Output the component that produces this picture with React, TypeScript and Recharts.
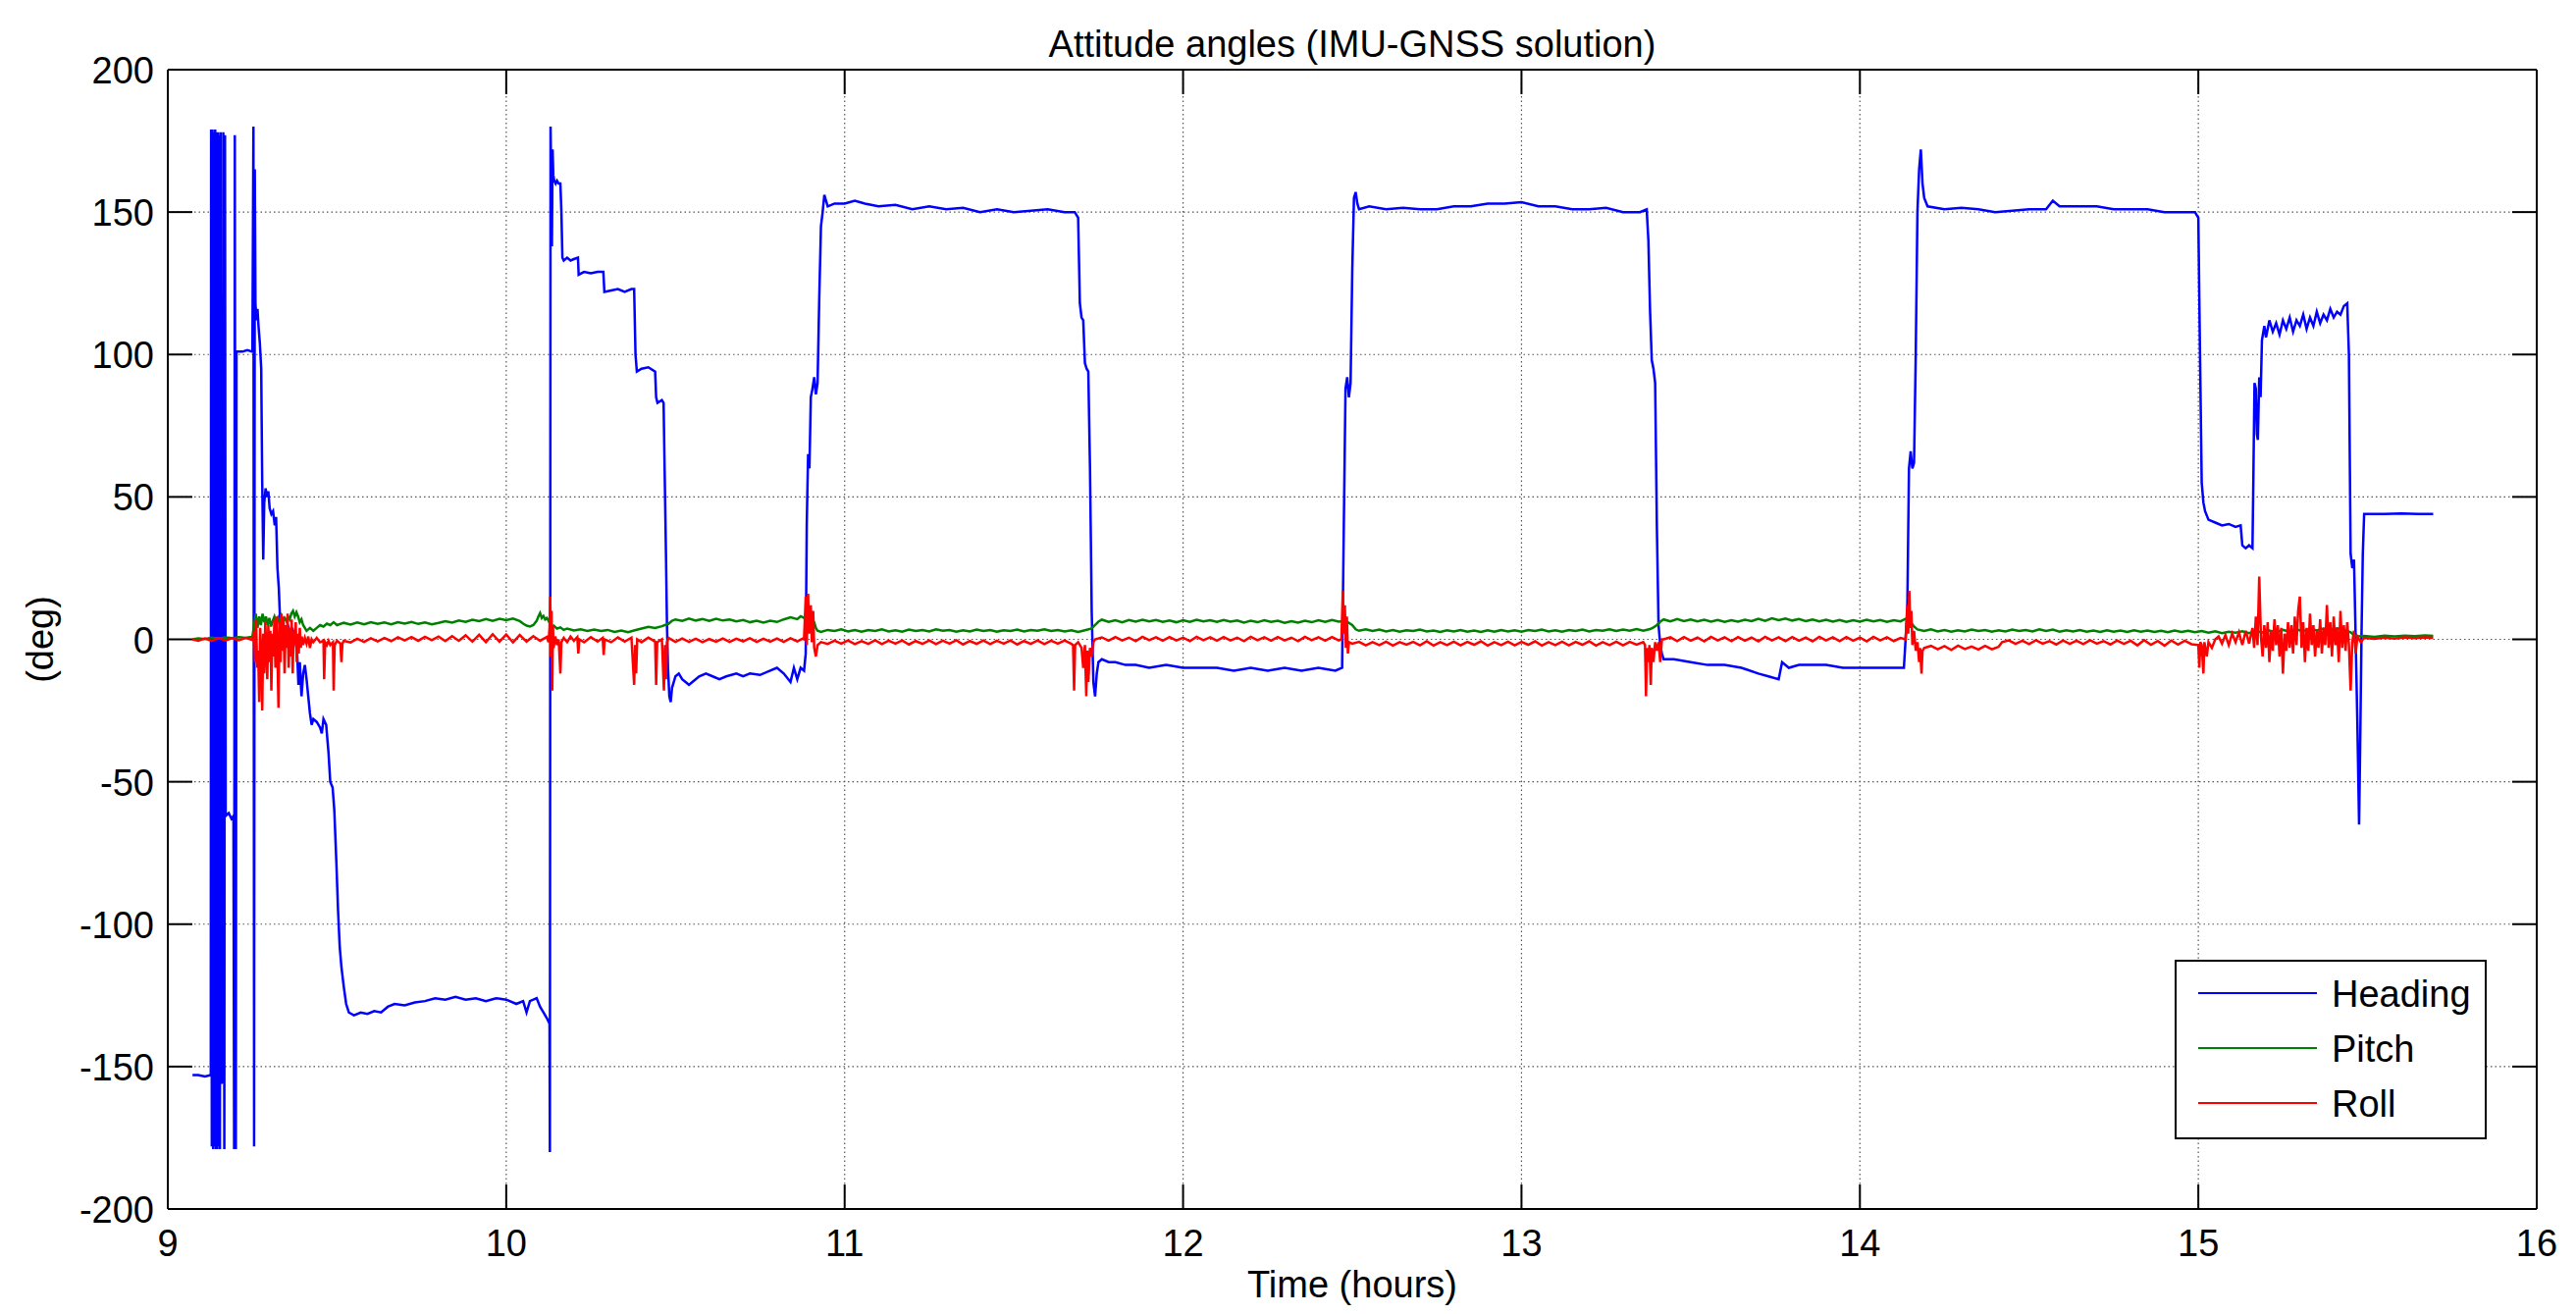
import React from 'react';
import { LineChart, Line, XAxis, YAxis, CartesianGrid, ReferenceLine, Legend, Label } from 'recharts';

type Pt = [number, number];

// axis ticks
const xTicks = [9, 10, 11, 12, 13, 14, 15, 16];
const yTicks = [-200, -150, -100, -50, 0, 50, 100, 150, 200];

// [time (hours), angle (deg)]
const heading: Pt[] = [
  [9.073, -153], [9.09, -153], [9.11, -153.5], [9.127, -153],
  [9.128, 179], [9.13, -178], [9.132, 179], [9.134, -179], [9.136, 178], [9.138, -178], [9.14, 179], [9.142, -179],
  [9.144, 178], [9.146, -179], [9.148, 178], [9.15, -178], [9.152, 177], [9.154, -179], [9.156, 178], [9.158, -156], [9.162, -155],
  [9.164, 178], [9.167, -179], [9.169, 177], [9.171, -62], [9.18, -61], [9.188, -63], [9.194, -62],
  [9.196, -179], [9.198, 177], [9.201, -179], [9.203, 101], [9.22, 101], [9.235, 101.5], [9.25, 101],
  [9.253, 180], [9.255, -178], [9.257, 165], [9.259, 118], [9.262, 112], [9.265, 116], [9.268, 110], [9.272, 104], [9.276, 95],
  [9.279, 55], [9.282, 28], [9.285, 48], [9.289, 53], [9.293, 50], [9.297, 52], [9.301, 46], [9.306, 44], [9.311, 45], [9.316, 40],
  [9.32, 43], [9.324, 25], [9.328, 18], [9.332, 6], [9.337, 1], [9.343, 3], [9.35, 2], [9.357, 4], [9.364, 1], [9.37, 3], [9.376, 0],
  [9.382, -4], [9.386, -16], [9.39, -8], [9.395, -20], [9.4, -12], [9.405, -9], [9.41, -14], [9.415, -20], [9.42, -26], [9.425, -30],
  [9.43, -28], [9.44, -29], [9.45, -31], [9.455, -33], [9.46, -28], [9.468, -30], [9.475, -40], [9.48, -50], [9.487, -52], [9.492, -60],
  [9.498, -78], [9.503, -95], [9.508, -108], [9.513, -115], [9.52, -122], [9.527, -128], [9.535, -131],
  [9.55, -132], [9.57, -131], [9.59, -131.5], [9.61, -130.5], [9.63, -131], [9.65, -129], [9.67, -128], [9.7, -128.5], [9.73, -127.5],
  [9.76, -127], [9.79, -126], [9.82, -126.5], [9.85, -125.5], [9.88, -126.5], [9.91, -126], [9.94, -127], [9.97, -126], [10.0, -126.5],
  [10.03, -128], [10.05, -127], [10.06, -131], [10.07, -127], [10.09, -126], [10.1, -129], [10.11, -131], [10.12, -133], [10.128, -135],
  [10.129, -180], [10.131, 180], [10.133, 160], [10.135, 138], [10.137, 172], [10.139, 163], [10.142, 161], [10.146, 160], [10.15, 161],
  [10.155, 160], [10.16, 160], [10.163, 150], [10.166, 134], [10.17, 133], [10.18, 134], [10.19, 133], [10.2, 133.5], [10.212, 134],
  [10.214, 128], [10.23, 129], [10.25, 128.5], [10.27, 129], [10.287, 129], [10.29, 122], [10.31, 122.5], [10.33, 123], [10.35, 122],
  [10.37, 123], [10.378, 123], [10.382, 100], [10.386, 94], [10.4, 95], [10.42, 95.5], [10.44, 94], [10.443, 85], [10.447, 83],
  [10.46, 84], [10.465, 83], [10.468, 60], [10.472, 30], [10.475, 5], [10.478, -10], [10.482, -20], [10.486, -22], [10.49, -17],
  [10.495, -15], [10.5, -13], [10.51, -12], [10.52, -14], [10.53, -15], [10.54, -16], [10.55, -15], [10.57, -13], [10.59, -12],
  [10.61, -13], [10.63, -14], [10.65, -13], [10.68, -12], [10.7, -13], [10.72, -12], [10.75, -12.5], [10.78, -11], [10.8, -10],
  [10.82, -12], [10.84, -15], [10.85, -10], [10.86, -14], [10.87, -10], [10.88, -11],
  [10.885, -5], [10.888, 40], [10.892, 65], [10.896, 60], [10.9, 85], [10.905, 88], [10.91, 92], [10.915, 86], [10.92, 90],
  [10.925, 120], [10.93, 145], [10.935, 150], [10.94, 156], [10.945, 154], [10.95, 152], [10.97, 153], [11.0, 153], [11.03, 154],
  [11.06, 153], [11.1, 152], [11.15, 152.5], [11.2, 151], [11.25, 152], [11.3, 151], [11.35, 151.5], [11.4, 150], [11.45, 151],
  [11.5, 150], [11.55, 150.5], [11.6, 151], [11.65, 150], [11.68, 150], [11.69, 148], [11.695, 118], [11.7, 113], [11.705, 112],
  [11.71, 97], [11.715, 95], [11.72, 94], [11.725, 60], [11.73, 10], [11.735, -15], [11.74, -20], [11.745, -12], [11.75, -8],
  [11.76, -7], [11.78, -8], [11.8, -8], [11.83, -9], [11.86, -9], [11.9, -10], [11.95, -9], [12.0, -10], [12.05, -10], [12.1, -10],
  [12.15, -11], [12.2, -10], [12.25, -11], [12.3, -10], [12.35, -11], [12.4, -10], [12.45, -11], [12.47, -10],
  [12.475, 40], [12.48, 88], [12.485, 92], [12.49, 85], [12.495, 90], [12.5, 130], [12.505, 155], [12.51, 157], [12.515, 153],
  [12.52, 151], [12.55, 152], [12.6, 151], [12.65, 151.5], [12.7, 151], [12.75, 151], [12.8, 152], [12.85, 152], [12.9, 153],
  [12.95, 153], [13.0, 153.5], [13.05, 152], [13.1, 152], [13.15, 151], [13.2, 151], [13.25, 151.5], [13.3, 150], [13.35, 150],
  [13.37, 151], [13.375, 140], [13.38, 115], [13.385, 98], [13.39, 95], [13.395, 90], [13.4, 40], [13.405, 5], [13.41, -2],
  [13.415, -5], [13.42, -7], [13.45, -7], [13.5, -8], [13.55, -9], [13.6, -9], [13.65, -10], [13.7, -12], [13.73, -13], [13.76, -14],
  [13.77, -8], [13.79, -10], [13.82, -9], [13.85, -9], [13.9, -9], [13.95, -10], [14.0, -10], [14.05, -10], [14.1, -10], [14.13, -10],
  [14.14, 10], [14.145, 60], [14.15, 66], [14.155, 60], [14.16, 62], [14.165, 100], [14.17, 150], [14.175, 165], [14.18, 172],
  [14.185, 160], [14.19, 155], [14.2, 152], [14.25, 151], [14.3, 151.5], [14.35, 151], [14.4, 150], [14.45, 150.5], [14.5, 151],
  [14.55, 151], [14.57, 154], [14.59, 152], [14.65, 152], [14.7, 152], [14.75, 151], [14.8, 151], [14.85, 151], [14.9, 150],
  [14.95, 150], [14.99, 150],
  [15.0, 148], [15.005, 100], [15.01, 55], [15.015, 48], [15.02, 45], [15.03, 42], [15.05, 41], [15.07, 40], [15.09, 40.5],
  [15.11, 39.5], [15.125, 40], [15.13, 33], [15.14, 32], [15.15, 33], [15.16, 32], [15.163, 60], [15.166, 90], [15.17, 88],
  [15.173, 72], [15.176, 70], [15.18, 92], [15.184, 85], [15.188, 105], [15.195, 110], [15.2, 106], [15.21, 112], [15.22, 108],
  [15.23, 111], [15.24, 107], [15.25, 112], [15.26, 109], [15.27, 113], [15.28, 108], [15.29, 112], [15.3, 110], [15.31, 114],
  [15.32, 109], [15.33, 113], [15.34, 110], [15.35, 115], [15.36, 111], [15.37, 114], [15.38, 112], [15.39, 116], [15.4, 113],
  [15.41, 115], [15.42, 114], [15.43, 117], [15.44, 118], [15.445, 100],
  [15.45, 30], [15.455, 25], [15.46, 28], [15.465, 0], [15.47, -30], [15.475, -65], [15.478, -40], [15.482, 0], [15.486, 30],
  [15.49, 44], [15.55, 44], [15.6, 44.2], [15.65, 44], [15.694, 44],
];

const pitch: Pt[] = [
  [9.073, 0], [9.09, 0.3], [9.11, 0.1], [9.13, 0.6], [9.15, 0.3], [9.17, 0.7], [9.19, 0.4], [9.21, 0.8], [9.23, 0.5], [9.25, 0.9],
  [9.255, 5], [9.26, 9], [9.265, 4], [9.27, 8], [9.275, 5], [9.28, 9], [9.285, 6], [9.29, 8], [9.295, 5], [9.3, 7.5], [9.305, 4.5],
  [9.31, 6.5], [9.315, 8], [9.32, 6], [9.325, 7.5], [9.33, 5.5], [9.335, 8], [9.34, 6], [9.345, 7.5], [9.35, 6.5], [9.355, 8], [9.36, 7],
  [9.365, 9], [9.37, 10], [9.375, 8], [9.38, 9.5], [9.385, 8], [9.39, 6], [9.395, 7], [9.4, 5], [9.405, 4], [9.41, 3], [9.415, 3.5],
  [9.42, 4], [9.43, 3], [9.44, 4], [9.45, 5], [9.46, 4.5], [9.47, 5.5], [9.48, 5], [9.49, 6], [9.5, 5], [9.52, 5.8], [9.54, 5.2], [9.56, 5.9],
  [9.58, 5.3], [9.6, 6], [9.62, 5.4], [9.64, 5.9], [9.66, 5.3], [9.68, 6], [9.7, 5.5], [9.72, 6.1], [9.74, 5.4], [9.76, 5.9], [9.78, 5.3],
  [9.8, 5.8], [9.82, 6.4], [9.84, 5.9], [9.86, 6.6], [9.88, 6.1], [9.9, 6.9], [9.92, 6.4], [9.94, 7.1], [9.96, 6.5], [9.98, 7.2], [10.0, 6.7],
  [10.02, 7.3], [10.04, 6.4], [10.05, 5.5], [10.06, 4.8], [10.07, 4.5], [10.08, 5], [10.09, 6.5], [10.095, 8], [10.1, 9.2], [10.105, 7.5],
  [10.11, 8.2], [10.115, 7], [10.12, 7.5], [10.125, 6.5], [10.13, 5.5], [10.135, 4.5], [10.14, 4.8], [10.15, 3.8], [10.16, 4.2],
  [10.17, 3.3], [10.18, 3.8], [10.2, 3.1], [10.22, 3.5], [10.24, 2.9], [10.26, 3.4], [10.28, 2.9], [10.3, 3.3], [10.32, 2.6], [10.34, 3.1],
  [10.36, 2.5], [10.38, 3.2], [10.4, 3.8], [10.42, 4.4], [10.44, 4], [10.46, 4.6], [10.48, 5.5], [10.49, 6.5], [10.5, 7], [10.52, 6.5],
  [10.54, 7.3], [10.56, 6.6], [10.58, 7.1], [10.6, 6.5], [10.62, 7.2], [10.64, 6.6], [10.66, 7], [10.68, 6.3], [10.7, 6.8], [10.72, 6],
  [10.74, 6.5], [10.76, 5.9], [10.78, 6.5], [10.8, 6.1], [10.82, 7], [10.84, 7.7], [10.86, 7.1], [10.87, 8.1], [10.88, 7.5], [10.89, 8.4],
  [10.9, 7.8], [10.91, 6], [10.915, 4], [10.92, 3],
  [10.93, 2.6], [10.95, 3.3], [10.97, 2.9], [10.99, 3.5], [11.01, 2.8], [11.03, 3.3], [11.05, 2.7], [11.07, 3.3], [11.09, 2.9],
  [11.11, 3.5], [11.13, 2.8], [11.15, 3.2], [11.17, 2.7], [11.19, 3.4], [11.21, 2.9], [11.23, 3.3], [11.25, 2.8], [11.27, 3.5],
  [11.29, 3], [11.31, 3.3], [11.33, 2.7], [11.35, 3.2], [11.37, 2.8], [11.39, 3.4], [11.41, 2.9], [11.43, 3.3], [11.45, 2.7],
  [11.47, 3.2], [11.49, 2.9], [11.51, 3.4], [11.53, 2.8], [11.55, 3.3], [11.57, 3], [11.59, 3.5], [11.61, 2.9], [11.63, 3.3],
  [11.65, 2.8], [11.67, 3.2], [11.69, 2.6], [11.71, 3.2], [11.73, 3.8],
  [11.74, 5], [11.75, 6.2], [11.76, 6.9], [11.78, 6.1], [11.8, 6.7], [11.82, 6], [11.84, 6.8], [11.86, 6.2], [11.88, 6.9], [11.9, 6.3],
  [11.92, 6.8], [11.94, 6.1], [11.96, 6.6], [11.98, 6], [12.0, 6.7], [12.02, 6.1], [12.04, 6.9], [12.06, 6.3], [12.08, 6.7], [12.1, 6.1],
  [12.12, 6.8], [12.14, 6.2], [12.16, 6.6], [12.18, 5.9], [12.2, 6.5], [12.22, 6], [12.24, 6.7], [12.26, 6.1], [12.28, 6.5], [12.3, 5.8],
  [12.32, 6.4], [12.34, 5.9], [12.36, 6.5], [12.38, 6], [12.4, 6.7], [12.42, 6.1], [12.44, 6.8], [12.46, 6.2], [12.48, 6.5],
  [12.5, 5], [12.51, 3.5], [12.52, 3], [12.54, 3.5], [12.56, 2.9], [12.58, 3.4], [12.6, 2.8], [12.62, 3.3], [12.64, 2.7], [12.66, 3.2],
  [12.68, 2.9], [12.7, 3.4], [12.72, 2.8], [12.74, 3.1], [12.76, 2.6], [12.78, 3.2], [12.8, 2.8], [12.82, 3.3], [12.84, 2.7], [12.86, 3.1],
  [12.88, 2.6], [12.9, 3.2], [12.92, 2.7], [12.94, 3.3], [12.96, 2.8], [12.98, 3.2], [13.0, 2.7], [13.02, 3.3], [13.04, 2.9], [13.06, 3.4],
  [13.08, 2.8], [13.1, 3.2], [13.12, 2.7], [13.14, 3.3], [13.16, 2.9], [13.18, 3.4], [13.2, 2.8], [13.22, 3.3], [13.24, 3], [13.26, 3.5],
  [13.28, 2.9], [13.3, 3.4], [13.32, 3], [13.34, 3.6], [13.36, 3], [13.38, 3.6], [13.39, 4.2], [13.4, 5], [13.41, 6.2], [13.42, 7],
  [13.44, 6.3], [13.46, 7.1], [13.48, 6.4], [13.5, 7], [13.52, 6.3], [13.54, 6.9], [13.56, 6.2], [13.58, 6.8], [13.6, 6.1], [13.62, 6.7],
  [13.64, 6.2], [13.66, 6.9], [13.68, 6.4], [13.7, 7.2], [13.72, 6.5], [13.74, 7.4], [13.76, 6.7], [13.78, 7.3], [13.8, 6.6], [13.82, 7.1],
  [13.84, 6.4], [13.86, 7], [13.88, 6.3], [13.9, 6.9], [13.92, 6.2], [13.94, 6.8], [13.96, 6.1], [13.98, 6.7], [14.0, 6.2], [14.02, 6.9],
  [14.04, 6.3], [14.06, 6.8], [14.08, 6.1], [14.1, 6.7], [14.12, 6.3], [14.14, 7.5], [14.15, 6], [14.16, 4.5], [14.17, 3.5],
  [14.19, 2.9], [14.21, 3.5], [14.23, 2.8], [14.25, 3.3], [14.27, 2.7], [14.29, 3.2], [14.31, 2.8], [14.33, 3.4], [14.35, 2.9],
  [14.37, 3.3], [14.39, 2.7], [14.41, 3.2], [14.43, 2.8], [14.45, 3.4], [14.47, 2.9], [14.49, 3.3], [14.51, 2.8], [14.53, 3.5],
  [14.55, 2.9], [14.57, 3.4], [14.59, 2.7], [14.61, 3.2], [14.63, 2.8], [14.65, 3.3], [14.67, 2.7], [14.69, 3.1], [14.71, 2.6],
  [14.73, 3.2], [14.75, 2.7], [14.77, 3.1], [14.79, 2.6], [14.81, 3.2], [14.83, 2.7], [14.85, 3.1], [14.87, 2.6], [14.89, 3],
  [14.91, 2.5], [14.93, 3.1], [14.95, 2.6], [14.97, 3], [14.99, 2.5],
  [15.01, 2.9], [15.03, 2.3], [15.05, 2.8], [15.07, 2.2], [15.09, 2.7], [15.11, 2.3], [15.13, 2.8], [15.15, 2.2], [15.17, 2.9], [15.19, 2.4],
  [15.21, 3.1], [15.23, 2.5], [15.25, 3.3], [15.27, 2.7], [15.29, 3.4], [15.31, 2.9], [15.33, 3.7], [15.35, 3.1], [15.37, 3.8], [15.39, 3.3],
  [15.41, 3.9], [15.43, 3.4], [15.45, 2.5], [15.46, 1.5], [15.47, 1], [15.49, 1.2], [15.52, 0.9], [15.55, 1.3], [15.58, 1], [15.61, 1.3],
  [15.64, 1.1], [15.67, 1.4], [15.694, 1.2],
];

const roll: Pt[] = [
  [9.073, 0], [9.09, -0.5], [9.11, 0.3], [9.13, -0.6], [9.15, 0.5], [9.17, -0.4], [9.19, 0.4], [9.21, -0.3], [9.23, 0.5], [9.25, -0.2],
  [9.255, 3], [9.258, -8], [9.261, 7], [9.264, -10], [9.267, -4], [9.27, -22], [9.273, 4], [9.276, -6], [9.279, -25], [9.282, 2],
  [9.285, -12], [9.288, 6], [9.291, -3], [9.294, -14], [9.297, 5], [9.3, -8], [9.303, 3], [9.306, -18], [9.309, 2], [9.312, -6],
  [9.315, 7], [9.318, -10], [9.321, 8], [9.324, -5], [9.327, -24], [9.33, 6], [9.333, -8], [9.336, 9], [9.339, -4], [9.342, 8],
  [9.345, -12], [9.348, 5], [9.351, -3], [9.354, 9], [9.357, -10], [9.36, 4], [9.363, -6], [9.366, 7], [9.369, -12], [9.372, 3],
  [9.375, -2], [9.378, 6], [9.381, -8], [9.384, 2], [9.387, -5], [9.39, 4], [9.393, -3], [9.396, 1], [9.4, -2], [9.405, 0.5],
  [9.41, -1.5], [9.415, 1], [9.42, -3], [9.425, 0], [9.43, -1], [9.44, 0.5], [9.45, -1], [9.46, -0.5], [9.462, -14], [9.465, -1],
  [9.47, -2], [9.475, -0.5], [9.48, -2], [9.488, -1], [9.49, -18], [9.493, -2], [9.5, -0.5], [9.51, -1.5], [9.513, -8], [9.516, -1.5],
  [9.52, -0.5], [9.54, -1.1], [9.56, 0.2], [9.58, -0.9], [9.6, 0.4], [9.62, -0.7], [9.64, 0.5], [9.66, -0.6], [9.68, 0.7], [9.7, -0.4],
  [9.72, 0.8], [9.74, -0.5], [9.76, 0.9], [9.78, -0.3], [9.8, 1], [9.82, -0.6], [9.84, 1.1], [9.86, -0.5], [9.88, 1.4], [9.9, -0.8],
  [9.92, 1.6], [9.94, -1], [9.96, 1.8], [9.98, -0.8], [10.0, 1.7], [10.02, -1.1], [10.04, 1.5], [10.06, -0.8], [10.08, 1.1], [10.1, -0.5],
  [10.12, 0.8], [10.125, -1], [10.128, 4], [10.13, 15], [10.132, -6], [10.134, 10], [10.136, -18], [10.138, 5], [10.14, -3],
  [10.145, 1], [10.15, -2], [10.155, 0], [10.16, -12], [10.163, -1], [10.17, 0.5], [10.18, -1], [10.19, 1], [10.2, -0.5], [10.21, 0.8],
  [10.213, -5], [10.216, 0], [10.23, -1], [10.25, 0.8], [10.27, -0.8], [10.285, 0.5], [10.288, -5.5], [10.291, 0], [10.31, -1],
  [10.33, 0.7], [10.35, -0.8], [10.37, 0.6], [10.378, -16], [10.381, -2], [10.384, -12], [10.387, 0], [10.4, -1], [10.42, 0.6],
  [10.44, -0.8], [10.443, -16], [10.446, -1], [10.46, 0], [10.466, -18], [10.469, -2], [10.472, -14], [10.475, -1], [10.48, 0.5],
  [10.5, -0.9], [10.52, 0.3], [10.54, -0.9], [10.56, 0.2], [10.58, -1], [10.6, 0.1], [10.62, -0.8], [10.64, 0.3], [10.66, -0.9],
  [10.68, 0.2], [10.7, -0.7], [10.72, 0.4], [10.74, -0.9], [10.76, 0.2], [10.78, -0.8], [10.8, 0.3], [10.82, -0.9], [10.84, 0.4],
  [10.86, -0.7], [10.875, 0.2], [10.88, 0], [10.885, 15], [10.888, -2], [10.892, 16], [10.895, 2], [10.9, 12], [10.903, -1],
  [10.907, 10], [10.91, -3], [10.915, -6], [10.92, -2], [10.93, -1],
  [10.95, -1.6], [10.97, -0.5], [10.99, -1.5], [11.01, -0.4], [11.03, -1.7], [11.05, -0.6], [11.07, -1.6], [11.09, -0.3], [11.11, -1.7],
  [11.13, -0.5], [11.15, -1.5], [11.17, -0.4], [11.19, -1.8], [11.21, -0.6], [11.23, -1.6], [11.25, -0.4], [11.27, -1.7], [11.29, -0.5],
  [11.31, -1.5], [11.33, -0.3], [11.35, -1.8], [11.37, -0.6], [11.39, -1.6], [11.41, -0.4], [11.43, -1.7], [11.45, -0.5], [11.47, -1.5],
  [11.49, -0.4], [11.51, -1.8], [11.53, -0.6], [11.55, -1.6], [11.57, -0.4], [11.59, -1.7], [11.61, -0.5], [11.63, -1.5], [11.65, -0.4],
  [11.67, -1.6], [11.675, -2], [11.678, -18], [11.681, -2], [11.69, -1], [11.7, -3], [11.705, -10], [11.71, -2], [11.714, -20],
  [11.717, -4], [11.72, -15], [11.725, -3], [11.73, -6], [11.735, -1], [11.74, 0],
  [11.76, 0.7], [11.78, -0.5], [11.8, 0.8], [11.82, -0.4], [11.84, 0.6], [11.86, -0.6], [11.88, 0.9], [11.9, -0.3], [11.92, 0.7],
  [11.94, -0.5], [11.96, 0.8], [11.98, -0.4], [12.0, 0.6], [12.02, -0.6], [12.04, 0.9], [12.06, -0.3], [12.08, 0.7], [12.1, -0.5],
  [12.12, 0.8], [12.14, -0.4], [12.16, 0.6], [12.18, -0.6], [12.2, 0.9], [12.22, -0.3], [12.24, 0.7], [12.26, -0.5], [12.28, 0.8],
  [12.3, -0.4], [12.32, 0.6], [12.34, -0.6], [12.36, 0.9], [12.38, -0.3], [12.4, 0.7], [12.42, -0.5], [12.44, 0.8], [12.46, -0.4],
  [12.468, 0], [12.472, 17], [12.475, 2], [12.478, 12], [12.481, -3], [12.484, 8], [12.487, -5], [12.49, -1], [12.5, -1.5],
  [12.52, -0.9], [12.54, -2.1], [12.56, -1], [12.58, -2], [12.6, -0.8], [12.62, -2.2], [12.64, -1], [12.66, -1.9], [12.68, -0.9],
  [12.7, -2.1], [12.72, -0.7], [12.74, -2.2], [12.76, -1], [12.78, -2], [12.8, -0.8], [12.82, -2.1], [12.84, -0.9], [12.86, -1.9],
  [12.88, -0.7], [12.9, -2.2], [12.92, -1], [12.94, -2], [12.96, -0.8], [12.98, -2.1], [13.0, -0.9], [13.02, -1.9], [13.04, -0.7],
  [13.06, -2.2], [13.08, -1], [13.1, -2], [13.12, -0.8], [13.14, -2.1], [13.16, -0.9], [13.18, -1.9], [13.2, -0.7], [13.22, -2.2],
  [13.24, -1], [13.26, -2], [13.28, -0.8], [13.3, -2.1], [13.32, -0.9], [13.34, -1.9], [13.36, -1],
  [13.365, -2], [13.368, -20], [13.371, -3], [13.375, -8], [13.378, -2], [13.382, -16], [13.385, -3], [13.39, -8], [13.395, -1],
  [13.4, -4], [13.405, -1], [13.41, -8], [13.415, 0], [13.42, 0],
  [13.44, 0.7], [13.46, -0.6], [13.48, 0.8], [13.5, -0.5], [13.52, 0.6], [13.54, -0.7], [13.56, 0.9], [13.58, -0.4], [13.6, 0.7],
  [13.62, -0.6], [13.64, 0.8], [13.66, -0.5], [13.68, 0.6], [13.7, -0.7], [13.72, 0.9], [13.74, -0.4], [13.76, 0.7], [13.78, -0.6],
  [13.8, 0.8], [13.82, -0.5], [13.84, 0.6], [13.86, -0.7], [13.88, 0.9], [13.9, -0.4], [13.92, 0.7], [13.94, -0.6], [13.96, 0.8],
  [13.98, -0.5], [14.0, 0.6], [14.02, -0.7], [14.04, 0.9], [14.06, -0.4], [14.08, 0.7], [14.1, -0.6], [14.12, 0.5],
  [14.135, 0], [14.14, 12], [14.143, 2], [14.146, 17], [14.149, 4], [14.152, 10], [14.155, -2], [14.16, 3], [14.165, -4], [14.17, -1],
  [14.175, -8], [14.178, -3], [14.182, -12], [14.185, -4], [14.19, -3],
  [14.21, -2.3], [14.23, -3.5], [14.25, -2.4], [14.27, -3.7], [14.29, -2.2], [14.31, -3.4], [14.33, -2.5], [14.35, -3.6], [14.37, -2.3],
  [14.39, -3.5], [14.41, -2.6], [14.42, -1],
  [14.44, -0.4], [14.46, -1.6], [14.48, -0.5], [14.5, -1.7], [14.52, -0.3], [14.54, -1.5], [14.56, -0.6], [14.58, -1.8], [14.6, -0.4],
  [14.62, -1.6], [14.64, -0.5], [14.66, -1.7], [14.68, -0.3], [14.7, -1.5], [14.72, -0.6], [14.74, -1.8], [14.76, -0.4], [14.78, -1.6],
  [14.8, -0.5], [14.82, -2.1], [14.84, -0.3], [14.86, -1.9], [14.88, -0.6], [14.9, -2.2], [14.92, -0.4], [14.94, -1.8], [14.96, -0.5],
  [14.98, -1.7],
  [15.0, -2], [15.003, -10], [15.006, -1], [15.01, -2], [15.015, -12], [15.018, -1], [15.025, -6], [15.03, -1], [15.04, -3], [15.05, 0],
  [15.06, 1], [15.07, -1.5], [15.08, 1.5], [15.09, -2], [15.1, 2], [15.11, -1], [15.12, 2.5], [15.13, -2], [15.14, 3], [15.15, -1.5],
  [15.16, 4], [15.165, -3], [15.17, 8], [15.175, -2], [15.18, 22], [15.185, 1], [15.19, -6], [15.195, 5], [15.2, -3], [15.205, 6],
  [15.21, -8], [15.215, 3], [15.22, -4], [15.225, 7], [15.23, -2], [15.235, 5], [15.24, -6], [15.245, 4], [15.25, -12], [15.255, 2],
  [15.26, -4], [15.265, 6], [15.27, -3], [15.275, 5], [15.28, -5], [15.285, 8], [15.29, -2], [15.295, 10], [15.3, 15], [15.305, -3],
  [15.31, 6], [15.315, -8], [15.32, 4], [15.325, -4], [15.33, 9], [15.335, -2], [15.34, 5], [15.345, -6], [15.35, 3], [15.355, -3],
  [15.36, 7], [15.365, -5], [15.37, 4], [15.375, -2], [15.38, 12], [15.385, -3], [15.39, 6], [15.395, -6], [15.4, 8], [15.405, -2],
  [15.41, 4], [15.415, -8], [15.42, 10], [15.425, -3], [15.43, 5], [15.435, -4], [15.44, 6], [15.445, -2], [15.45, -18], [15.455, -1],
  [15.46, 3], [15.465, -5], [15.47, 1], [15.48, -1], [15.49, 0.5], [15.52, 0.2], [15.55, 0.6], [15.58, 0.3], [15.61, 0.7], [15.64, 0.4],
  [15.67, 0.7], [15.694, 0.5],
];

const FONT = '"Liberation Sans", Arial, Helvetica, sans-serif';
const PLOT_W = 2414;
const PLOT_H = 1161;
const TICK = 25;

const toRows = (pts: Pt[]) => pts.map(([t, v]) => ({ t, v }));

const series = [
  { name: 'Heading', color: '#0000ff', data: toRows(heading) },
  { name: 'Pitch', color: '#008000', data: toRows(pitch) },
  { name: 'Roll', color: '#ff0000', data: toRows(roll) },
];

// inward ticks on bottom + top, label under the axis
const XTick = ({ x, y, payload }: any) => (
  <g>
    <line x1={x} x2={x} y1={y} y2={y - TICK} stroke="#000" strokeWidth={2} />
    <line x1={x} x2={x} y1={y - PLOT_H} y2={y - PLOT_H + TICK} stroke="#000" strokeWidth={2} />
    <text x={x} y={y + 48} textAnchor="middle" fontSize={38} fontFamily={FONT} fill="#000">
      {payload.value}
    </text>
  </g>
);

// inward ticks on left + right
const YTick = ({ x, y, payload }: any) => (
  <g>
    <line x1={x} x2={x + TICK} y1={y} y2={y} stroke="#000" strokeWidth={2} />
    <line x1={x + PLOT_W - TICK} x2={x + PLOT_W} y1={y} y2={y} stroke="#000" strokeWidth={2} />
    <text x={x - 14} y={y + 14} textAnchor="end" fontSize={38} fontFamily={FONT} fill="#000">
      {payload.value}
    </text>
  </g>
);

const LegendBox = () => (
  <svg width={318} height={183} style={{ display: 'block' }}>
    <rect x={1} y={1} width={316} height={181} fill="#fff" stroke="#000" strokeWidth={2} />
    {series.map((s, i) => (
      <g key={s.name}>
        <line x1={24} x2={145} y1={34 + i * 56} y2={34 + i * 56} stroke={s.color} strokeWidth={2} />
        <text x={160} y={48 + i * 56} fontSize={38} fontFamily={FONT} fill="#000">
          {s.name}
        </text>
      </g>
    ))}
  </svg>
);

export default function App() {
  return (
    <div style={{ position: 'absolute', left: 0, top: 0, width: 2625, height: 1339, background: '#fff', fontFamily: FONT }}>
      <div
        style={{
          position: 'absolute', left: 171, top: 26, width: PLOT_W, textAlign: 'center',
          fontSize: 38, lineHeight: '38px', color: '#000',
        }}
      >
        Attitude angles (IMU-GNSS solution)
      </div>
      <LineChart width={2625} height={1339} margin={{ top: 71, right: 40, bottom: 47, left: 51 }}>
        <CartesianGrid stroke="#555" strokeWidth={1.2} strokeDasharray="1.5 3" />
        <XAxis
          type="number"
          dataKey="t"
          domain={[9, 16]}
          ticks={xTicks}
          interval={0}
          allowDataOverflow
          height={60}
          tickSize={0}
          tickMargin={0}
          tick={XTick}
          axisLine={{ stroke: '#000', strokeWidth: 2 }}
        >
          <Label
            content={() => (
              <text x={171 + PLOT_W / 2} y={1322} textAnchor="middle" fontSize={38} fontFamily={FONT} fill="#000">
                Time (hours)
              </text>
            )}
          />
        </XAxis>
        <YAxis
          type="number"
          domain={[-200, 200]}
          ticks={yTicks}
          interval={0}
          allowDataOverflow
          width={120}
          tickSize={0}
          tickMargin={0}
          tick={YTick}
          axisLine={{ stroke: '#000', strokeWidth: 2 }}
        >
          <Label
            content={() => (
              <text
                x={54}
                y={651.5}
                transform="rotate(-90, 54, 651.5)"
                textAnchor="middle"
                fontSize={38}
                fontFamily={FONT}
                fill="#000"
              >
                (deg)
              </text>
            )}
          />
        </YAxis>
        <ReferenceLine y={200} stroke="#000" strokeWidth={2} />
        <ReferenceLine x={16} stroke="#000" strokeWidth={2} />
        {series.map((s) => (
          <Line
            key={s.name}
            name={s.name}
            data={s.data}
            dataKey="v"
            type="linear"
            stroke={s.color}
            strokeWidth={2.5}
            dot={false}
            activeDot={false}
            isAnimationActive={false}
          />
        ))}
        <Legend
          layout="vertical"
          align="center"
          verticalAlign="middle"
          content={LegendBox}
          wrapperStyle={{ left: 2216, top: 978, right: 'auto', bottom: 'auto', width: 318, height: 183 }}
        />
      </LineChart>
    </div>
  );
}
